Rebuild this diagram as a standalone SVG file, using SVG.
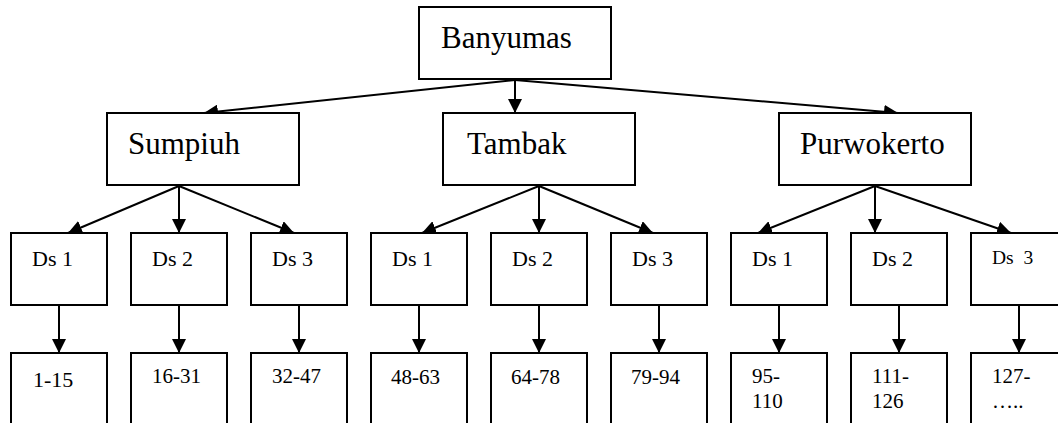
<svg xmlns="http://www.w3.org/2000/svg" width="1058" height="423" viewBox="0 0 1058 423">
<style>
rect{fill:#fff;stroke:#000;stroke-width:2}
text{font-family:"Liberation Serif","Times New Roman",serif;fill:#000;white-space:pre}
.big{font-size:31px}
.ds{font-size:22px}
.num{font-size:21px}
#connectors line{stroke:#000;stroke-width:2;marker-end:url(#ah)}
</style>
<defs>
<marker id="ah" markerUnits="userSpaceOnUse" markerWidth="14" markerHeight="14" refX="14" refY="7" orient="auto" viewBox="0 0 14 14">
<path d="M0,0 L14,7 L0,14 z" fill="#000"/>
</marker>
</defs>
<rect x="0" y="0" width="1058" height="423" style="stroke:none"/>
<g id="connectors">
<line x1="515" y1="80" x2="204" y2="113"/>
<line x1="515" y1="80" x2="515" y2="113"/>
<line x1="515" y1="80" x2="898" y2="113"/>
<line x1="179" y1="186" x2="68" y2="233"/>
<line x1="179" y1="186" x2="179" y2="233"/>
<line x1="179" y1="186" x2="294" y2="233"/>
<line x1="539" y1="186" x2="422" y2="233"/>
<line x1="539" y1="186" x2="539" y2="233"/>
<line x1="539" y1="186" x2="653" y2="233"/>
<line x1="875" y1="186" x2="758" y2="233"/>
<line x1="875" y1="186" x2="875" y2="233"/>
<line x1="875" y1="186" x2="1011" y2="233"/>
<line x1="59" y1="306" x2="59" y2="353"/>
<line x1="179" y1="306" x2="179" y2="353"/>
<line x1="299" y1="306" x2="299" y2="353"/>
<line x1="419" y1="306" x2="419" y2="353"/>
<line x1="539" y1="306" x2="539" y2="353"/>
<line x1="659" y1="306" x2="659" y2="353"/>
<line x1="779" y1="306" x2="779" y2="353"/>
<line x1="899" y1="306" x2="899" y2="353"/>
<line x1="1019" y1="306" x2="1019" y2="353"/>
</g>
<g id="banyumas"><rect x="419" y="7" width="192" height="72"/><text class="big" x="441" y="48">Banyumas</text></g>
<g id="sumpiuh"><rect x="107" y="113" width="192" height="72"/><text class="big" x="128" y="154">Sumpiuh</text></g>
<g id="tambak"><rect x="443" y="113" width="192" height="72"/><text class="big" x="467" y="154">Tambak</text></g>
<g id="purwokerto"><rect x="779" y="113" width="192" height="72"/><text class="big" x="800" y="154">Purwokerto</text></g>
<g id="s-ds1"><rect x="11" y="233" width="96" height="72"/><text class="ds" x="32" y="266">Ds 1</text></g>
<g id="s-ds2"><rect x="131" y="233" width="96" height="72"/><text class="ds" x="152" y="266">Ds 2</text></g>
<g id="s-ds3"><rect x="251" y="233" width="96" height="72"/><text class="ds" x="272" y="266">Ds 3</text></g>
<g id="t-ds1"><rect x="371" y="233" width="96" height="72"/><text class="ds" x="392" y="266">Ds 1</text></g>
<g id="t-ds2"><rect x="491" y="233" width="96" height="72"/><text class="ds" x="512" y="266">Ds 2</text></g>
<g id="t-ds3"><rect x="611" y="233" width="96" height="72"/><text class="ds" x="632" y="266">Ds 3</text></g>
<g id="p-ds1"><rect x="731" y="233" width="96" height="72"/><text class="ds" x="752" y="266">Ds 1</text></g>
<g id="p-ds2"><rect x="851" y="233" width="96" height="72"/><text class="ds" x="872" y="266">Ds 2</text></g>
<g id="p-ds3"><rect x="971" y="233" width="96" height="72"/><text x="992" y="264" style="font-size:19.5px">Ds  3</text></g>
<g id="n1"><rect x="11" y="353" width="96" height="90"/><text class="ds" x="33" y="387">1-15</text></g>
<g id="n2"><rect x="131" y="353" width="96" height="90"/><text class="num" x="152" y="383">16-31</text></g>
<g id="n3"><rect x="251" y="353" width="96" height="90"/><text class="num" x="272" y="383">32-47</text></g>
<g id="n4"><rect x="371" y="353" width="96" height="90"/><text class="num" x="391" y="384">48-63</text></g>
<g id="n5"><rect x="491" y="353" width="96" height="90"/><text class="num" x="511" y="384">64-78</text></g>
<g id="n6"><rect x="611" y="353" width="96" height="90"/><text class="num" x="631" y="384">79-94</text></g>
<g id="n7"><rect x="731" y="353" width="96" height="90"/><text class="num" x="752" y="383">95-</text><text class="num" x="752" y="408">110</text></g>
<g id="n8"><rect x="851" y="353" width="96" height="90"/><text class="num" x="872" y="383">111-</text><text class="num" x="872" y="408">126</text></g>
<g id="n9"><rect x="971" y="353" width="96" height="90"/><text class="num" x="992" y="383">127-</text><text class="num" x="992" y="408">…..</text></g>
</svg>
